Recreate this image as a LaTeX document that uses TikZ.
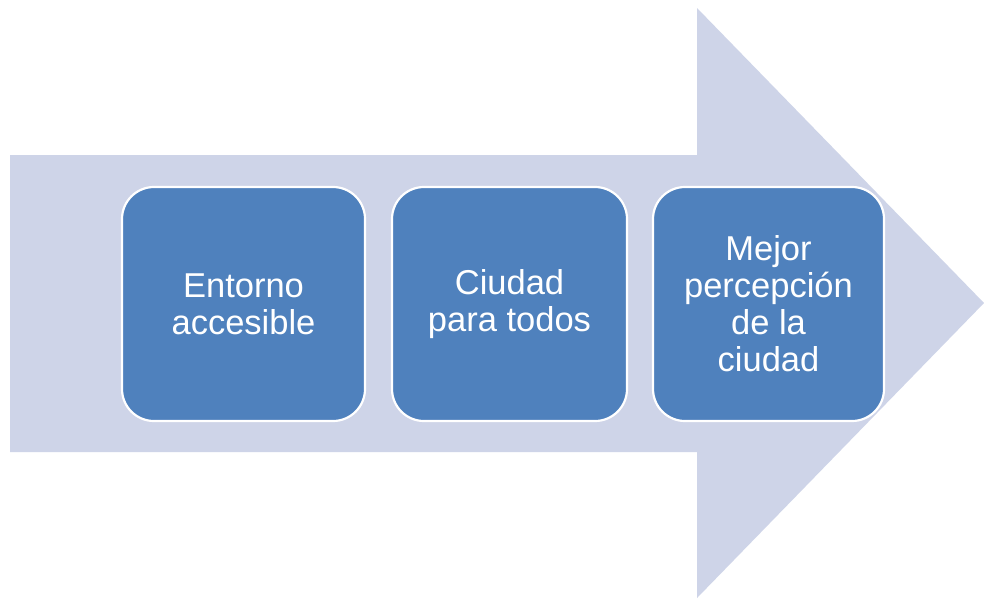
\documentclass[tikz,border=0pt]{standalone}
\usepackage{fontspec}
\setmainfont{Liberation Sans}
\definecolor{arrowfill}{RGB}{206,212,232}
\definecolor{boxfill}{RGB}{79,129,189}
\tikzset{
  stepbox/.style={draw=white, line width=2.2pt, fill=boxfill, rounded corners=32pt,
    text=white, align=center, inner sep=0pt,
    font=\fontsize{34.5}{37}\selectfont},
}
\begin{document}
\begin{tikzpicture}[x=1pt,y=-1pt]
\useasboundingbox (0,0) rectangle (984,598);
\fill[white] (0,0) rectangle (984,598);
\fill[arrowfill] (10,155) -- (697,155) -- (697,8) -- (984,303) -- (697,598) -- (697,452) -- (10,452) -- cycle;
\node[stepbox, minimum width=243pt, minimum height=234pt] (b1) at (243.5,304) {Entorno\\accesible};
\node[stepbox, minimum width=235pt, minimum height=234pt] (b2) at (509.5,304) {Ciudad\\para todos};
\node[stepbox, minimum width=231pt, minimum height=234pt] (b3) at (768.5,304) {Mejor\\percepción\\de la\\ciudad};
\end{tikzpicture}
\end{document}
